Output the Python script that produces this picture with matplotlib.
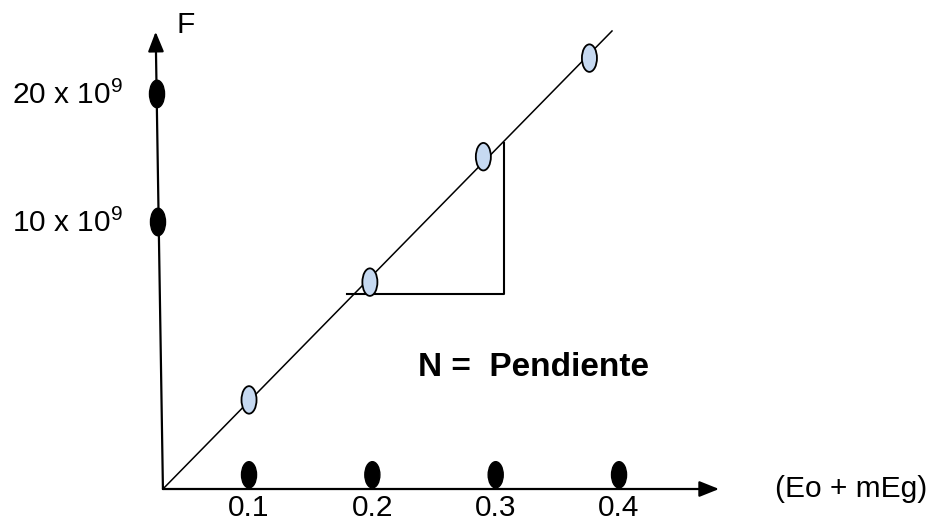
import matplotlib
matplotlib.use("Agg")
import matplotlib.pyplot as plt
from matplotlib.patches import Ellipse

plt.rcParams['font.family'] = ['Liberation Sans', 'DejaVu Sans']
plt.rcParams['mathtext.fontset'] = 'custom'
plt.rcParams['mathtext.rm'] = 'Liberation Sans'

# ---- data (schematic diagram coordinates) ----
x_ticks = [0.1, 0.2, 0.3, 0.4]
x_tick_labels = ['0.1', '0.2', '0.3', '0.4']
y_ticks = [10.0, 20.0]
y_tick_labels = ['10 x 10$^{\\mathregular{9}}$', '20 x 10$^{\\mathregular{9}}$']
pts_x = [0.100, 0.198, 0.290, 0.376]
pts_y = [-3.9, 5.3, 15.1, 22.8]
line_x = [0.0302, 0.3943]
line_y = [-10.86, 24.92]
tri_x = [0.1794, 0.3067, 0.3067]
tri_y = [4.375, 4.375, 16.17]
origin = (0.0302, -10.86)
ytip = (0.0243, 24.86)
xtip = (0.4811, -10.86)
x_label = '(Eo + mEg)'
y_label = 'F'
note = 'N =  Pendiente'

fig = plt.figure(figsize=(9.37, 5.26), dpi=100)
ax = fig.add_axes([0, 0, 1, 1])
ax.set_xlim(-0.1019, 0.6578)
ax.set_ylim(-13.75, 27.34)
ax.axis('off')

arrow_kw = dict(arrowstyle='-|>,head_length=1.0,head_width=0.4', color='black',
                lw=1.6, mutation_scale=12, shrinkA=0, shrinkB=0)
ax.annotate('', xy=xtip, xytext=origin, arrowprops=arrow_kw)
ax.annotate('', xy=ytip, xytext=origin, arrowprops=arrow_kw)

# fitted line
ax.plot(line_x, line_y, color='black', lw=1.1, zorder=2)
# slope triangle
ax.plot(tri_x, tri_y, color='black', lw=1.5, zorder=2)

ew, eh = 0.0122, 2.15
# points on the line
for x, y in zip(pts_x, pts_y):
    ax.add_patch(Ellipse((x, y), ew, eh, facecolor='#c6d9f1', edgecolor='black', lw=1.3, zorder=3))

# black markers on the x axis
for x, lab in zip(x_ticks, x_tick_labels):
    ax.add_patch(Ellipse((x, -9.75), ew, 2.05, facecolor='black', edgecolor='black', zorder=3))
    ax.text(x, -13.0, lab, ha='center', va='baseline', fontsize=21.5)

# black markers on the y axis
y_axis_x = {10.0: 0.0262, 20.0: 0.0254}
for y, lab in zip(y_ticks, y_tick_labels):
    ax.add_patch(Ellipse((y_axis_x[y], y), ew, 2.15, facecolor='black', edgecolor='black', zorder=3))
    ax.text(-0.002, y - 0.75, lab, ha='right', va='baseline', fontsize=21.5)

ax.text(0.0416, 24.75, y_label, ha='left', va='baseline', fontsize=21.5)
ax.text(0.5265, -10.86, x_label, ha='left', va='center', fontsize=21.5)
ax.text(0.2370, -1.4, note, ha='left', va='center', fontsize=24, fontweight='bold')

fig.savefig('out.png', dpi=100)
